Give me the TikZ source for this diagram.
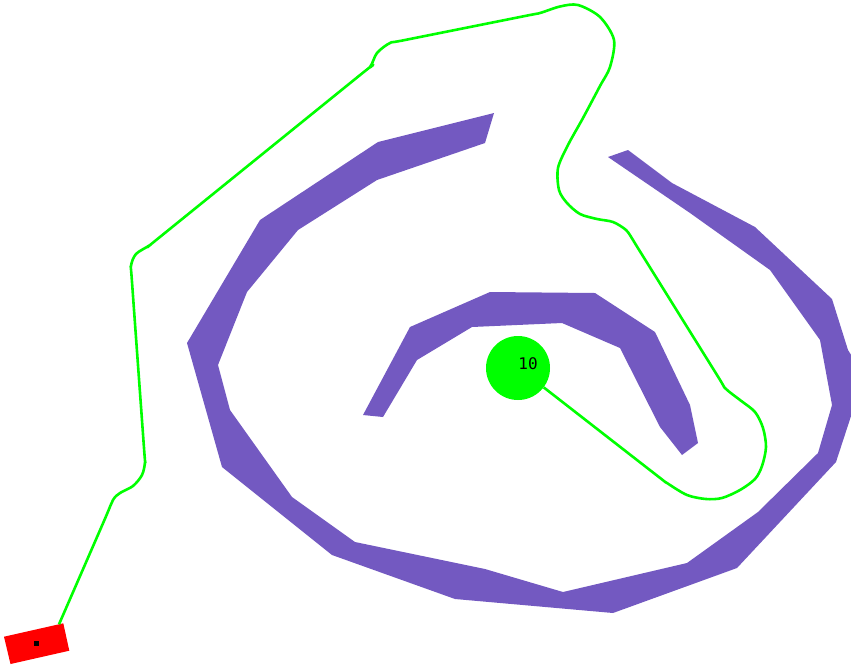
\documentclass[tikz,border=0pt]{standalone}
\usepackage{fontspec}
\usepackage{tikz}
\usetikzlibrary{calc}
\newfontfamily\goalfont{DejaVu Sans Mono}
\definecolor{wallpurple}{RGB}{115,89,193}
\definecolor{routegreen}{RGB}{0,255,0}
\definecolor{carred}{RGB}{255,0,0}

\begin{document}
\begin{tikzpicture}[x=1pt, y=-1pt,
    wall/.style={fill=wallpurple, draw=none},
    route/.style={routegreen, line width=2.6pt, line join=round}]
  \useasboundingbox (0,0) rectangle (851,665);
  \clip (0,0) rectangle (851,665);

  % outer wall (spiral band)
  \fill[wall] (494,113) -- (378,142) -- (260,220) -- (187,343) -- (222,467)
    -- (332,555) -- (455,599) -- (613,613) -- (737,568) -- (836,462)
    -- (853,410) -- (853,358) -- (848,350) -- (832,299) -- (755,227)
    -- (672,183) -- (628,150) -- (608,157) -- (690,213) -- (770,270)
    -- (820,340) -- (832,405) -- (818,453) -- (758,512) -- (687,563)
    -- (563,592) -- (485,569) -- (355,542) -- (292,497) -- (230,410)
    -- (218,365) -- (247,292) -- (298,230) -- (377,180) -- (485,143) -- cycle;

  % inner wall (arc above goal)
  \fill[wall] (363,415) -- (410,327) -- (490,292) -- (595,293) -- (655,332)
    -- (690,405) -- (698,443) -- (682,455) -- (660,427) -- (620,348)
    -- (562,323) -- (472,327) -- (417,360) -- (383,417) -- cycle;

  % car
  \fill[carred] (4,636.7) -- (63.3,623.3) -- (69.3,650.7) -- (10.5,664) -- cycle;
  \node[fill=black, minimum size=5pt, inner sep=0pt] (car) at (36.8,643.6) {};
  \coordinate (start) at (59,624.3);

  % goal
  \node[circle, fill=routegreen, minimum size=64pt, inner sep=0pt] (goal) at (518,368) {};
  \node[font=\goalfont\fontsize{16}{16}\selectfont, inner sep=0pt]
    (goallabel) at ([shift={(10,-4)}]goal.center) {10};

  % route from car to goal
  \draw[route] plot[smooth, tension=0.5] coordinates {
    (start) (104,521) (113,500) (120,493) (133,486) (142,475) (145,462)
    (144,448) (132,282) (131,266) (136,254) (150,245) (163,234.5)
    (357,77.5) (370,67) (377,53) (390,43) (405,40) (525,16) (540,13)
    (560,6.5) (578,5) (600,17) (614,40) (610,67) (600,86) (583,118)
    (568,145) (558,168) (559,190) (567,203) (580,214) (597,219) (613,222)
    (626,230) (633,240) (641,253) (717,375) (725,388) (740,400) (755,412)
    (763,428) (766,447) (762,466) (755,479) (740,490) (722,498) (706,499)
    (687,495) (667,483) (655,474) (goal.-37.7)};
\end{tikzpicture}
\end{document}
